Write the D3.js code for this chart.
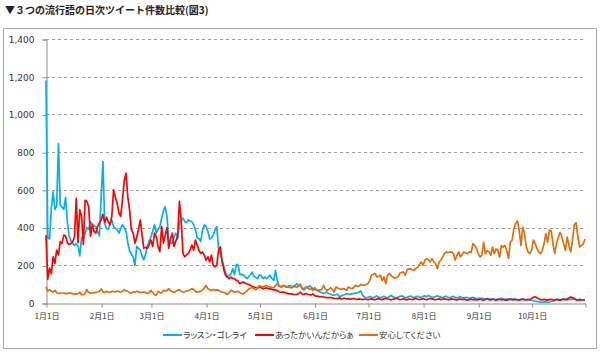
<!DOCTYPE html>
<html><head><meta charset="utf-8">
<script src="https://cdn.jsdelivr.net/npm/d3@7"></script>
<style>
body{margin:0;background:#fff;}
svg{display:block;}
</style></head><body>
<svg id="c" width="600" height="355"></svg>
<script>
const title = "▼３つの流行語の日次ツイート件数比較(図3)";
const seriesNames = ["ラッスン・ゴレライ", "あったかいんだからぁ", "安心してください"];
const seriesColors = ["#00B0F0", "#FF0000", "#E46C0A"];
const startDate = "2015-01-01";
const endDate = "2015-10-31";
const yTicks = [0, 200, 400, 600, 800, 1000, 1200, 1400];
const monthTicks = ["2015-01-01","2015-02-01","2015-03-01","2015-04-01","2015-05-01","2015-06-01","2015-07-01","2015-08-01","2015-09-01","2015-10-01"];
const monthTickLabels = ["1月1日","2月1日","3月1日","4月1日","5月1日","6月1日","7月1日","8月1日","9月1日","10月1日"];

// daily tweet counts, Jan 1 .. Oct 31
const rassun = [
1180,345,340,500,590,495,515,845,520,510,
495,560,430,355,330,315,305,315,300,250,
350,340,370,400,390,430,420,410,405,380,
355,560,750,420,395,390,420,440,405,395,
390,370,395,415,400,380,320,275,260,245,
200,300,290,280,250,230,260,300,330,350,
380,415,370,390,405,450,490,510,460,335,
320,316,350,370,340,430,440,450,432,425,
441,435,432,414,390,343,343,325,388,414,
405,380,340,345,361,385,405,290,260,225,
195,160,140,145,155,182,150,205,200,150,
152,150,137,129,140,150,164,140,135,129,
150,145,129,137,129,138,146,130,120,173,
120,90,88,93,90,84,88,93,90,88,
95,102,90,100,75,70,78,80,92,85,
76,72,67,62,58,55,50,55,58,50,
46,42,41,45,46,32,38,41,45,50,
48,45,50,50,52,53,58,64,40,32,
28,30,
35,30,28,33,38,30,27,32,36,30,28,34,40,33,30,27,31,35,38,32,29,30,34,37,31,28,33,36,30,32,
35,38,33,40,36,32,30,35,38,34,31,29,33,36,30,28,32,35,30,27,30,33,29,26,30,28,25,27,30,26,24,
25,22,26,23,20,24,22,19,23,21,20,18,22,25,21,19,22,20,18,21,23,20,18,17,20,22,19,18,16,17,
14,12,10,8,6,5,4,5,6,4,5,8,10,14,18,20,17,19,22,18,16,20,18,22,25,20,17,19,18,16,17
];
const attakai = [
360,125,185,155,245,210,280,255,325,315,
360,355,320,310,315,325,350,555,320,495,
460,310,545,540,510,355,415,380,370,405,
425,440,470,427,455,430,415,460,600,560,
530,477,460,547,650,689,560,494,390,370,
317,350,390,440,361,290,295,290,310,334,
300,370,352,300,272,405,317,360,400,290,
340,370,300,330,352,539,441,262,245,255,
262,280,307,280,334,307,280,262,271,254,
227,245,218,254,200,191,200,280,298,220,
175,146,137,129,137,129,130,120,115,102,
108,111,105,102,98,93,88,84,82,80,
84,82,75,78,80,76,75,72,70,68,
66,60,57,58,57,52,50,48,48,46,
45,45,50,57,48,45,50,46,45,42,
48,40,36,35,33,34,32,30,29,28,
28,
27,25,24,23,26,22,24,25,21,23,20,22,24,21,19,22,20,18,21,19,18,
20,22,19,17,21,23,20,18,22,24,21,19,17,20,22,25,21,18,20,23,19,17,21,20,18,22,24,20,18,21,
23,20,18,21,24,22,19,17,20,22,18,21,23,20,17,19,22,20,18,16,19,21,18,20,17,15,18,20,17,19,16,
18,20,17,15,19,21,18,16,20,17,15,18,20,16,19,17,15,18,21,17,16,19,17,15,18,20,17,16,19,18,
24,30,33,28,22,18,16,19,17,15,18,20,17,16,19,17,15,18,20,17,22,26,32,28,20,17,15,18,16,17,16
];
const anshin = [
85,64,71,62,58,67,55,50,53,53,
53,50,50,55,52,50,46,48,50,58,
44,44,50,71,56,52,53,56,55,58,
62,74,60,55,62,57,58,60,62,58,
64,60,58,62,71,64,62,55,53,58,
58,62,60,55,57,58,56,50,55,67,
55,44,41,62,56,53,67,64,66,76,
66,60,57,62,68,70,63,57,60,64,
66,70,75,72,62,57,60,62,70,80,
93,75,70,66,72,68,70,68,62,57,
57,52,45,55,68,62,57,60,62,55,
50,48,58,65,75,78,84,75,70,82,
93,88,84,90,93,86,84,82,80,92,
102,90,84,88,93,86,84,82,80,85,
88,84,90,94,80,76,84,85,72,76,
66,81,72,67,70,71,94,75,67,72,
81,70,58,85,80,76,72,76,74,67,
85,80,76,82,94,88,90,99,95,94,
98,103,120,150,152,156,138,142,147,120,
138,103,147,156,145,138,132,135,140,159,
162,165,147,177,180,182,175,173,185,191,
205,218,200,227,235,228,218,235,218,209,
182,218,227,245,262,271,266,270,271,262,
227,253,271,244,258,271,265,262,271,268,
315,306,289,262,244,252,322,261,278,271,
253,297,262,287,280,243,304,296,306,280,
235,322,333,391,421,435,386,306,403,368,
297,271,262,280,333,315,289,271,262,278,
315,368,322,386,383,313,262,315,348,374,
350,315,280,350,304,271,333,417,425,350,
297,306,313,339
];
const seriesValues = [rassun, attakai, anshin];

const parse = d3.timeParse("%Y-%m-%d");
const t0 = parse(startDate), t1 = parse(endDate);

const svg = d3.select("#c");
const W = 600, H = 355;
const plot = {left: 46, right: 585, top: 39, bottom: 303};

// frame
svg.append("rect").attr("x", 3.5).attr("y", 28.5).attr("width", 593).attr("height", 320)
  .attr("fill", "#fff").attr("stroke", "#a6a6a6").attr("stroke-width", 1);

// title
svg.append("text").attr("x", 5).attr("y", 14)
  .attr("font-family", "'Noto Sans CJK JP', sans-serif")
  .attr("font-size", 10).attr("font-weight", "bold").attr("fill", "#222")
  .text(title);

const x = d3.scaleTime().domain([t0, t1]).range([plot.left, plot.right]);
const y = d3.scaleLinear().domain([0, 1400]).range([plot.bottom, plot.top]);

// gridlines
svg.append("g").selectAll("line").data(yTicks.filter(d => d > 0)).join("line")
  .attr("x1", plot.left).attr("x2", plot.right)
  .attr("y1", d => Math.round(y(d)) + 0.5).attr("y2", d => Math.round(y(d)) + 0.5)
  .attr("stroke", "#9a9a9a").attr("stroke-width", 1).attr("stroke-dasharray", "3,3");

// y axis
const yAxis = d3.axisLeft(y).tickValues(yTicks).tickFormat(d3.format(",")).tickSize(4).tickPadding(8);
const gy = svg.append("g").attr("transform", `translate(${plot.left + 0.5},0.5)`).call(yAxis);
gy.select(".domain").attr("stroke", "#8c8c8c");
gy.selectAll(".tick line").attr("stroke", "#8c8c8c");
gy.selectAll(".tick text").attr("font-family", "'DejaVu Sans', sans-serif").attr("font-size", 9).attr("fill", "#333");

// x axis
const tickDates = monthTicks.map(parse).concat([t1]);
const xAxis = d3.axisBottom(x).tickValues(tickDates)
  .tickFormat((d, i) => i < monthTickLabels.length ? monthTickLabels[i] : "")
  .tickSize(4).tickPadding(6).tickSizeOuter(0);
const gx = svg.append("g").attr("transform", `translate(0.5,${plot.bottom + 0.5})`).call(xAxis);
gx.select(".domain").attr("stroke", "#8c8c8c");
gx.selectAll(".tick line").attr("stroke", "#8c8c8c");
gx.selectAll(".tick text").attr("font-family", "'Noto Sans CJK JP', sans-serif").attr("font-size", 8).attr("fill", "#333");

// series lines
const line = d3.line()
  .x((d, i) => x(d3.timeDay.offset(t0, i)))
  .y(d => y(d));
seriesValues.forEach((vals, k) => {
  svg.append("path").datum(vals)
    .attr("fill", "none").attr("stroke", seriesColors[k])
    .attr("stroke-width", 1.7).attr("stroke-linejoin", "round")
    .attr("d", line);
});

// legend
const legendX = [163, 255, 359];
const lg = svg.append("g");
seriesNames.forEach((name, k) => {
  lg.append("line").attr("x1", legendX[k]).attr("x2", legendX[k] + 19)
    .attr("y1", 335).attr("y2", 335)
    .attr("stroke", seriesColors[k]).attr("stroke-width", 2);
  lg.append("text").attr("x", legendX[k] + 20).attr("y", 338)
    .attr("font-family", "'Noto Sans CJK JP', sans-serif")
    .attr("font-size", 8.5).style("font-feature-settings", "'palt'")
    .attr("fill", "#333").text(name);
});
</script>
</body></html>
